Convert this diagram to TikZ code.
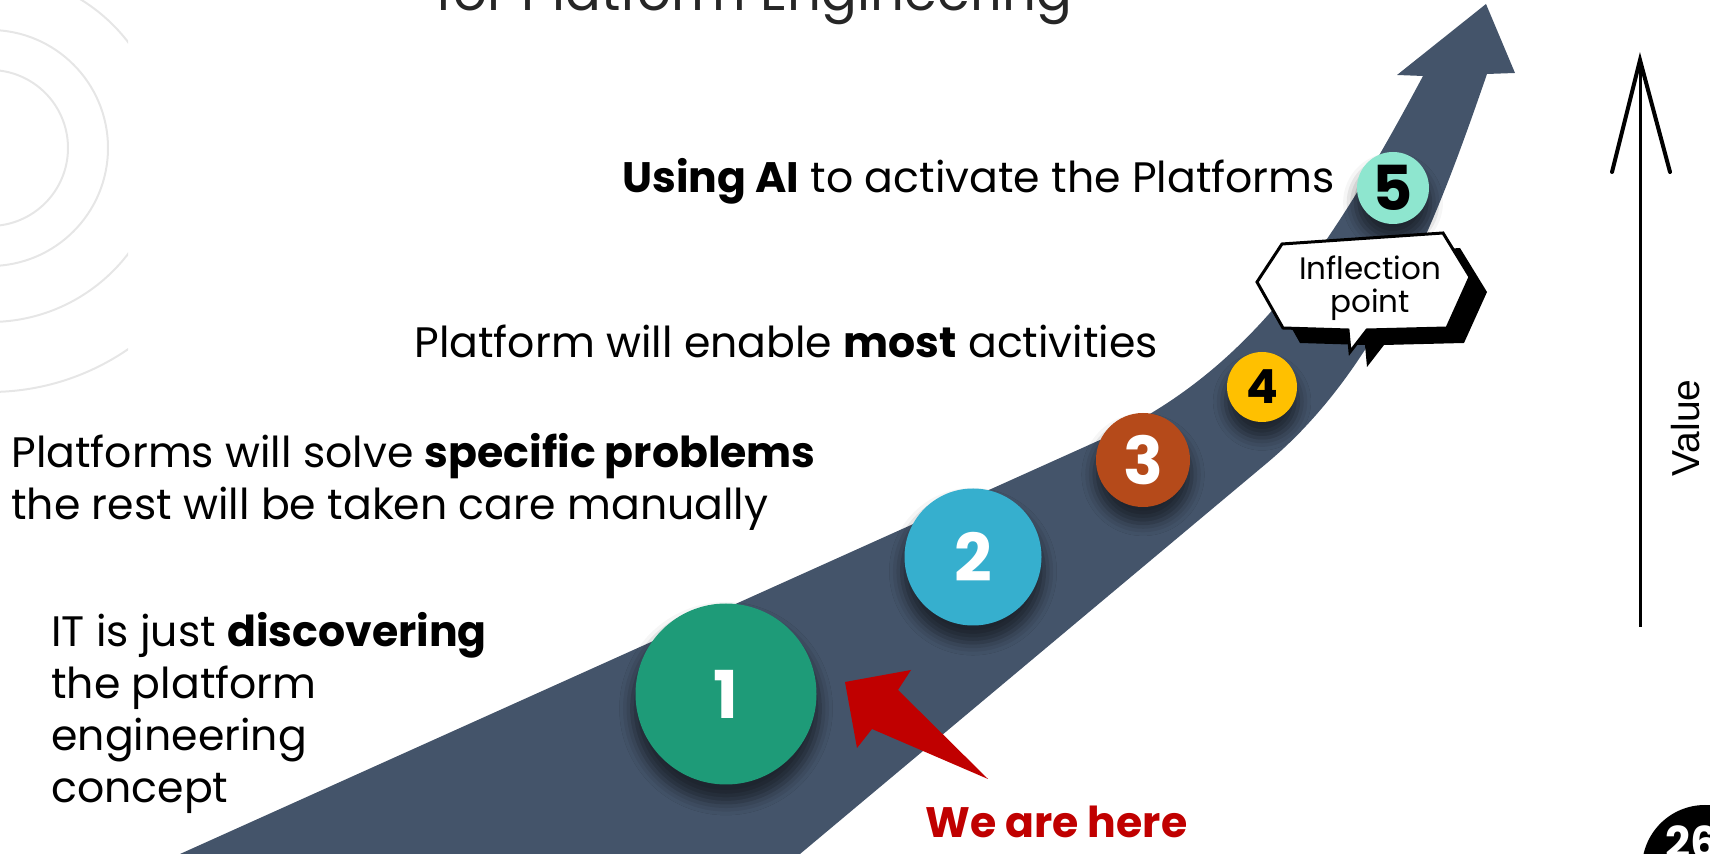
\documentclass[tikz,border=0pt]{standalone}
\usepackage{fontspec}
\setmainfont{Poppins}
\newfontfamily\valuefont{Liberation Sans}
\usetikzlibrary{shadows.blur}

\definecolor{roadslate}{HTML}{44546A}
\definecolor{ringgray}{HTML}{E6E6E6}
\definecolor{stageone}{HTML}{1E9B78}
\definecolor{stagetwo}{HTML}{36AFCE}
\definecolor{stagethree}{HTML}{B54A1A}
\definecolor{stagefour}{HTML}{FFC000}
\definecolor{stagefive}{HTML}{8EE6CF}
\definecolor{herered}{HTML}{C00000}

\begin{document}
\begin{tikzpicture}[
		x=0.5pt, y=-0.5pt,
		txt/.style={anchor=base west, inner sep=0pt, align=left, font=\fontsize{21.3}{26}\selectfont},
		stage/.style={circle, inner sep=0pt, text=white,
			blur shadow={shadow xshift=0pt, shadow yshift=-7pt, shadow scale=1.04,
				shadow opacity=55, shadow blur radius=6pt}},
		num/.style={font=\fontsize{#1}{#1}\selectfont\bfseries},
		ring/.style={ringgray, line width=1pt},
		bubble/.style={fill=white, draw=black, line width=1.5pt, line join=miter}
		]
		
		\useasboundingbox (0,0) rectangle (1710,854);
		\clip (0,0) rectangle (1710,854);
		
		% faint rings at the left border
		\begin{scope}
			\clip (0,0) rectangle (128,854);
			\foreach \r in {78,118,174,244}
			\draw[ring] (-10,148) circle (\r);
		\end{scope}
		
		% title, cut by the top border
		\node[anchor=base west, inner sep=0pt, text=black!85,
		font=\fontsize{26.5}{30}\selectfont] (title) at (436,11) {for Platform Engineering};
		
		% the road with its arrow head
		\fill[roadslate] (180,854) -- (1100,440)
		.. controls (1250,372) and (1330,250) .. (1423,76)
		-- (1397,75) -- (1486,4) -- (1515,73) -- (1487,74)
		.. controls (1440,210) and (1384,365) .. (1267,463)
		-- (800,854) -- cycle;
		
		% stages
		\node[stage, fill=stageone, minimum size=90.5pt, num=33] (s1) at (726,694) {1};
		\node[stage, fill=stagetwo, minimum size=68.5pt, num=33] (s2) at (973,557) {2};
		\node[stage, fill=stagethree, minimum size=47pt, num=33] (s3) at (1143,460) {3};
		\node[stage, fill=stagefour, minimum size=35pt, text=black, num=23.5] (s4) at (1262,387) {4};
		\node[stage, fill=stagefive, minimum size=36pt, text=black, num=31] (s5) at (1393,188) {5};
		
		% inflection callout
		\fill[black, shift={(17,15)}] (1282,244) -- (1443,233) -- (1470,277) -- (1447,328)
		-- (1367,330) -- (1350,352) -- (1348,330) -- (1283,328) -- (1257,282) -- cycle;
		\draw[bubble] (1282,244) -- (1443,233) -- (1470,277) -- (1447,328)
		-- (1367,330) -- (1350,352) -- (1348,330) -- (1283,328) -- (1257,282) -- cycle;
		\node[align=center, inner sep=0pt, font=\fontsize{15.5}{16.5}\selectfont] (inflect) at (1370,288)
		{Inflection\\point};
		
		% texts of the stages
		\node[txt] (t5) at (622,193) {\textbf{Using AI} to activate the Platforms};
		\node[txt] (t4) at (414,358) {Platform will enable \textbf{most} activities};
		\node[txt] (t3) at (11,520) {Platforms will solve \textbf{specific problems}\\the rest will be taken care manually};
		\node[txt] (t1) at (51,803) {IT is just \textbf{discovering}\\the platform\\engineering\\concept};
		
		% we are here
		\fill[herered] (845,682) -- (911,670) -- (898,690) -- (988,779) -- (872,729) -- (857,748) -- cycle;
		\node[txt, text=herered, font=\fontsize{21.3}{26}\selectfont\bfseries] (here) at (925,838) {We are here};
		
		% value axis
		\coordinate (vbot) at (1640,627);
		\coordinate (vtop) at (1640,60);
		\draw[line width=1.5pt] (vbot) -- (vtop);
		\draw[line width=2pt, line cap=round, line join=miter] ([xshift=-14pt,yshift=-56pt]vtop) -- (vtop) -- ([xshift=15pt,yshift=-56pt]vtop);
		\node[rotate=90, inner sep=0pt, font=\valuefont\fontsize{19.5}{20}\selectfont] (value) at (1686,428) {Value};
		
		% page number badge
		\fill[black] (1705,868) circle (63);
		\node[anchor=base west, inner sep=0pt, text=white, font=\fontsize{22}{22}\selectfont\bfseries] (page) at (1665,859) {26};
		
	\end{tikzpicture}
\end{document}
